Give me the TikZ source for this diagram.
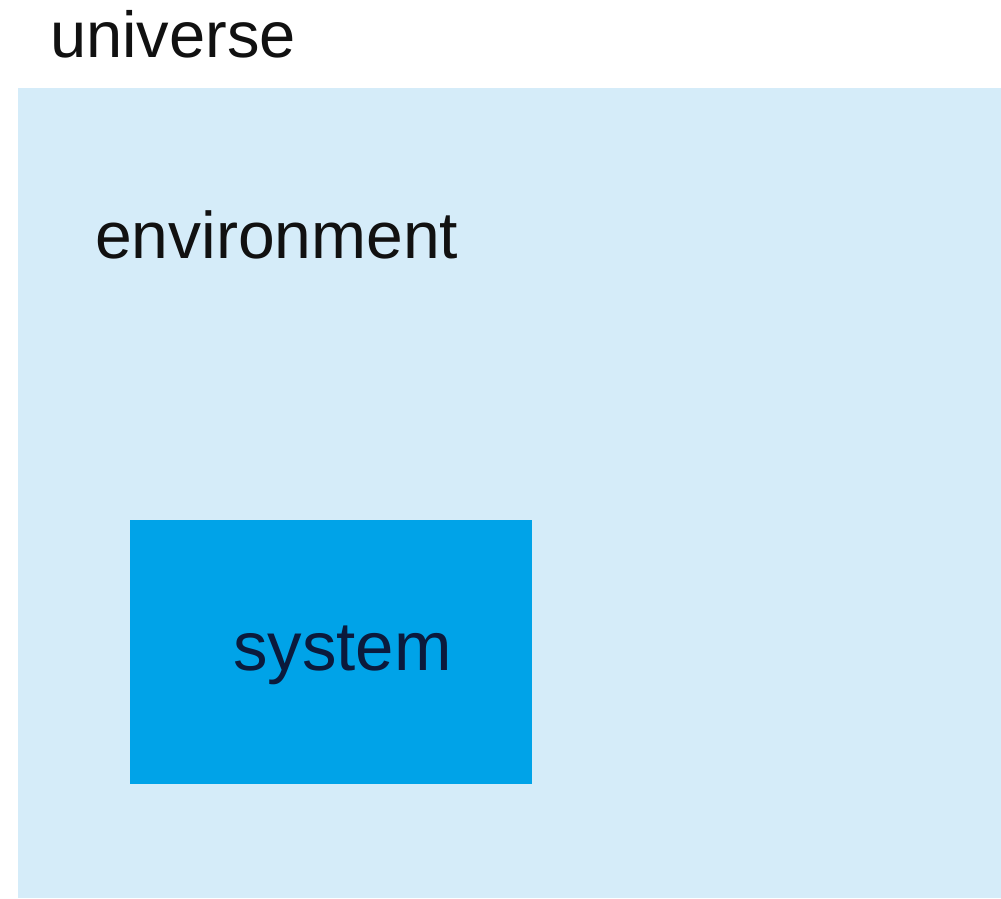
\documentclass[tikz,border=0pt]{standalone}
\usepackage{fontspec}
\setmainfont{Liberation Sans}
\definecolor{envfill}{HTML}{D5ECF9}
\definecolor{sysfill}{HTML}{00A3E8}
\definecolor{systext}{HTML}{0B1A3C}
\definecolor{labeltext}{HTML}{111111}
\begin{document}
\begin{tikzpicture}[x=1pt,y=-1pt,
  region/.style={draw=none,inner sep=0pt,outer sep=0pt,anchor=north west},
  label/.style={inner sep=0pt,anchor=base west,text=labeltext}]
  \useasboundingbox[fill=white] (0,0) rectangle (1001,899);
  % environment region
  \node[region,fill=envfill,minimum width=983pt,minimum height=810pt] (env) at (18,88) {};
  % system box
  \node[region,fill=sysfill,minimum width=402pt,minimum height=264pt] (sys) at (130,520) {};
  % labels
  \node[label,font=\fontsize{65}{70}\selectfont] (univ) at (50,58) {universe};
  \node[label,font=\fontsize{66}{70}\selectfont] (envlabel) at (95,258) {environment};
  \node[label,font=\fontsize{69}{75}\selectfont,text=systext] (syslabel) at (233,670) {system};
\end{tikzpicture}
\end{document}
